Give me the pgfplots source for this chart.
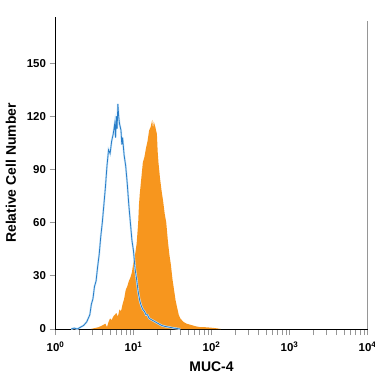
\documentclass[border=0pt]{standalone}
\usepackage{pgfplots}
\pgfplotsset{compat=1.18}
\usepackage{fontspec}
\setmainfont{Liberation Sans}
\definecolor{orng}{RGB}{247,150,30}
\definecolor{blu}{RGB}{40,125,200}
\definecolor{lblu}{RGB}{200,228,248}
\definecolor{tgray}{RGB}{150,150,150}
\begin{document}
\begin{tikzpicture}
\path[use as bounding box] (-55.5bp,-46bp) rectangle (319.5bp,329bp);
\begin{axis}[
  at={(0,0)}, anchor=south west,
  scale only axis, width=312bp, height=312bp,
  xmode=log, xmin=1, xmax=10000, ymin=0, ymax=176,
  axis x line*=bottom, axis y line*=left,
  axis line style={black, line width=0.8pt},
  xtick={1,10,100,1000,10000},
  xticklabels={{10\textsuperscript{0}},{10\textsuperscript{1}},{10\textsuperscript{2}},{10\textsuperscript{3}},{10\textsuperscript{4}}},
  ytick={0,30,60,90,120,150},
  yticklabels={0,30,60,90,120,150},
  tick style={tgray, line width=0.8pt},
  tick align=outside,
  major tick length=6bp, minor tick length=6bp,
  ticklabel style={font=\bfseries\fontsize{11.5}{11.5}\selectfont},
  xticklabel style={yshift=-3bp},
  xlabel={MUC-4}, ylabel={Relative Cell Number},
  label style={font=\bfseries\fontsize{14}{14}\selectfont},
  xlabel style={yshift=-3bp},
  ylabel style={yshift=4bp},
  clip=false,
]
\addplot[draw=none, fill=orng] table[x expr=10^\thisrow{lx}, y=v] {
lx v
0.45 0
0.50 0.5
0.55 1
0.60 2
0.64 3
0.66 1
0.68 4
0.70 6
0.72 5
0.74 7
0.76 8
0.78 9
0.80 7
0.82 11
0.84 10
0.86 14
0.88 17
0.90 22
0.92 24
0.94 27
0.96 29
0.98 32
1.00 38
1.02 42
1.04 48
1.06 60
1.07 70
1.08 76
1.10 85
1.12 94
1.14 97
1.16 102
1.18 106
1.20 112
1.22 114
1.24 118
1.25 113
1.26 117
1.28 114
1.30 110
1.31 100
1.32 94
1.34 85
1.36 78
1.38 72
1.40 65
1.42 60
1.44 50
1.46 42
1.48 36
1.50 28
1.52 22
1.54 16
1.56 12
1.58 8
1.60 6
1.64 4
1.68 3
1.72 2.5
1.76 2
1.80 1.5
1.86 1
1.92 1
1.98 0.8
2.05 0.5
2.12 0
} \closedcycle;
\addplot[lblu, line width=2pt] table[x expr=10^\thisrow{lx}, y=v] {
lx v
0.20 0
0.24 0.5
0.28 0
0.32 1
0.36 2
0.40 4
0.42 6
0.44 8
0.46 14
0.48 17
0.50 24
0.52 27
0.54 35
0.56 42
0.58 52
0.60 60
0.62 70
0.64 80
0.66 92
0.68 101
0.70 99
0.72 106
0.74 110
0.76 116
0.77 108
0.78 120
0.79 113
0.80 127
0.81 120
0.82 116
0.84 112
0.85 104
0.86 108
0.88 98
0.90 92
0.92 82
0.94 70
0.96 60
0.98 50
1.00 44
1.02 34
1.04 28
1.06 21
1.08 16
1.10 13
1.12 11
1.14 10
1.16 8
1.18 8
1.20 6
1.24 5
1.28 4
1.32 3
1.36 2
1.40 1.5
1.46 1
1.52 0.5
1.60 0
};
\addplot[blu, line width=0.8pt] table[x expr=10^\thisrow{lx}, y=v] {
lx v
0.20 0
0.24 0.5
0.28 0
0.32 1
0.36 2
0.40 4
0.42 6
0.44 8
0.46 14
0.48 17
0.50 24
0.52 27
0.54 35
0.56 42
0.58 52
0.60 60
0.62 70
0.64 80
0.66 92
0.68 101
0.70 99
0.72 106
0.74 110
0.76 116
0.77 108
0.78 120
0.79 113
0.80 127
0.81 120
0.82 116
0.84 112
0.85 104
0.86 108
0.88 98
0.90 92
0.92 82
0.94 70
0.96 60
0.98 50
1.00 44
1.02 34
1.04 28
1.06 21
1.08 16
1.10 13
1.12 11
1.14 10
1.16 8
1.18 8
1.20 6
1.24 5
1.28 4
1.32 3
1.36 2
1.40 1.5
1.46 1
1.52 0.5
1.60 0
};
\draw[tgray, line width=0.8pt] (axis cs:10000,0) -- (axis cs:10000,174);
\end{axis}
\end{tikzpicture}
\end{document}
